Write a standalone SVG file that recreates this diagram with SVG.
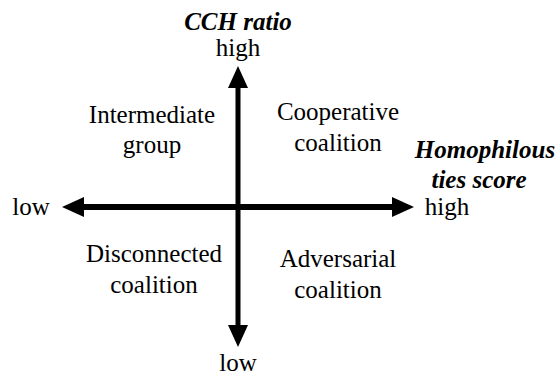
<svg xmlns="http://www.w3.org/2000/svg" width="559" height="378" viewBox="0 0 559 378">
<defs>
<marker id="ah" viewBox="0 0 22 20" refX="2" refY="10" markerWidth="22" markerHeight="20" markerUnits="userSpaceOnUse" orient="auto-start-reverse">
<path d="M0,0 L22,10 L0,20 Z" fill="#000"/>
</marker>
<style>
text{font-family:'Liberation Serif','Times New Roman',Times,serif;font-size:25px;fill:#000;text-anchor:middle}
.t{font-weight:bold;font-style:italic}
.axis{stroke:#000;fill:none;marker-start:url(#ah);marker-end:url(#ah)}
</style>
</defs>
<rect width="559" height="378" fill="#fff"/>
<g id="connectors">
<line class="axis" x1="238" y1="86" x2="238" y2="327" stroke-width="5"/>
<line class="axis" x1="82" y1="207" x2="394" y2="207" stroke-width="6"/>
</g>
<g id="y-axis-label">
<text class="t" x="238" y="30">CCH ratio</text>
<text x="238" y="56">high</text>
<text x="238" y="371">low</text>
</g>
<g id="x-axis-label">
<text class="t" x="485" y="158">Homophilous</text>
<text class="t" x="479" y="188">ties score</text>
<text x="31" y="215">low</text>
<text x="447" y="215">high</text>
</g>
<g id="intermediate">
<text x="152" y="123">Intermediate</text>
<text x="152" y="153">group</text>
</g>
<g id="cooperative">
<text x="338" y="120">Cooperative</text>
<text x="338" y="151">coalition</text>
</g>
<g id="disconnected">
<text x="154" y="262">Disconnected</text>
<text x="154" y="293">coalition</text>
</g>
<g id="adversarial">
<text x="338" y="267">Adversarial</text>
<text x="338" y="298">coalition</text>
</g>
</svg>
